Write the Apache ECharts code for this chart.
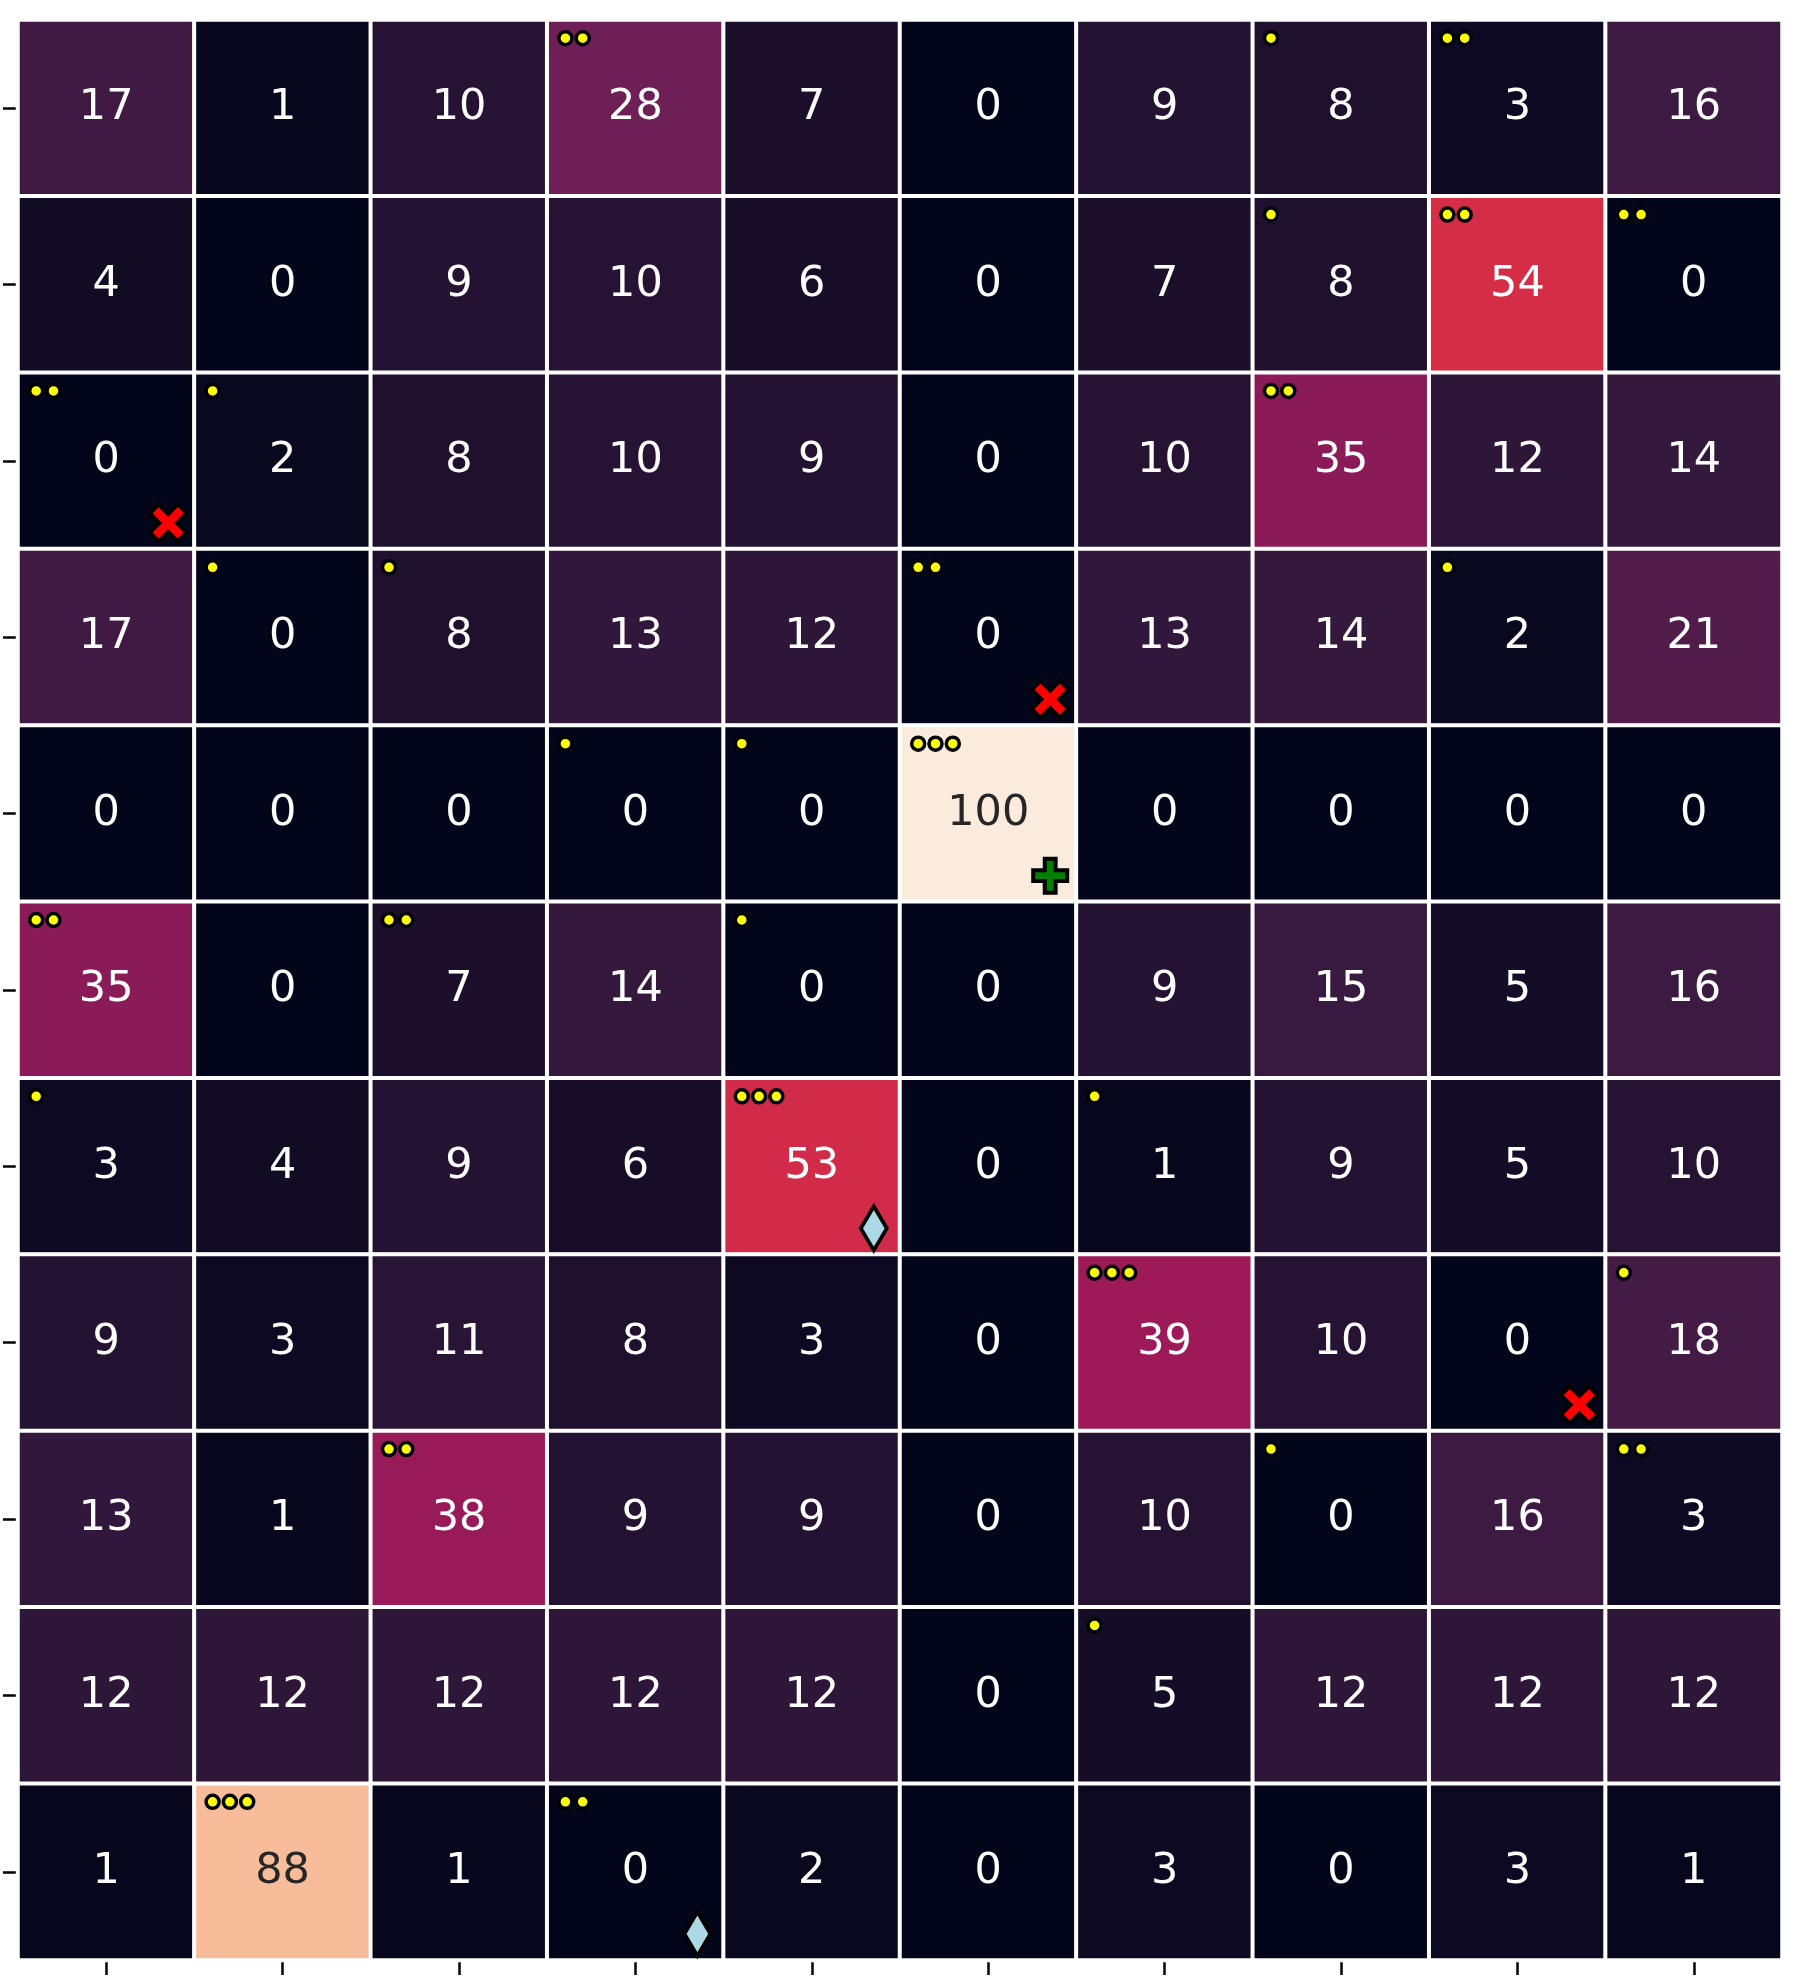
<!DOCTYPE html>
<html>
<head>
<meta charset="utf-8">
<script src="https://cdn.jsdelivr.net/npm/echarts@6/dist/echarts.min.js"></script>
<style>
  html, body { margin: 0; padding: 0; background: #ffffff; }
  #chart { width: 1800px; height: 1980px; }
</style>
</head>
<body>
<div id="chart"></div>
<script>
// ---- data ----
const columns = ['0','1','2','3','4','5','6','7','8','9'];
const rows = ['0','1','2','3','4','5','6','7','8','9','10'];
const values = [
  [17, 1, 10, 28, 7, 0, 9, 8, 3, 16],
  [4, 0, 9, 10, 6, 0, 7, 8, 54, 0],
  [0, 2, 8, 10, 9, 0, 10, 35, 12, 14],
  [17, 0, 8, 13, 12, 0, 13, 14, 2, 21],
  [0, 0, 0, 0, 0, 100, 0, 0, 0, 0],
  [35, 0, 7, 14, 0, 0, 9, 15, 5, 16],
  [3, 4, 9, 6, 53, 0, 1, 9, 5, 10],
  [9, 3, 11, 8, 3, 0, 39, 10, 0, 18],
  [13, 1, 38, 9, 9, 0, 10, 0, 16, 3],
  [12, 12, 12, 12, 12, 0, 5, 12, 12, 12],
  [1, 88, 1, 0, 2, 0, 3, 0, 3, 1]
];
// [row, col, number of dots]
const dotCounts = [
  [0,3,2],[0,7,1],[0,8,2],
  [1,7,1],[1,8,2],[1,9,2],
  [2,0,2],[2,1,1],[2,7,2],
  [3,1,1],[3,2,1],[3,5,2],[3,8,1],
  [4,3,1],[4,4,1],[4,5,3],
  [5,0,2],[5,2,2],[5,4,1],
  [6,0,1],[6,4,3],[6,6,1],
  [7,6,3],[7,9,1],
  [8,2,2],[8,7,1],[8,9,2],
  [9,6,1],
  [10,1,3],[10,3,2]
];
const crossCells = [[2,0],[3,5],[7,8]];
const plusCells = [[4,5]];
const diamondCells = [[6,4],[10,3]];

const rocket = ['#03051a','#35193e','#701f57','#ad1759','#e13342','#f37651','#f6b48f','#faebdd'];

// ---- build ----
const heatData = [];
values.forEach((row, r) => row.forEach((v, c) => {
  heatData.push({
    value: [c, r, v],
    label: { color: v > 70 ? '#262626' : '#ffffff' }
  });
}));

const dotSeries = [0,1,2].map(k => ({
  type: 'scatter',
  z: 5,
  symbol: 'circle',
  symbolSize: 13,
  symbolOffset: [-70 + 17.3 * k, -70],
  itemStyle: { color: '#ffff00', borderColor: '#000000', borderWidth: 3.5, opacity: 1 },
  data: dotCounts.filter(d => d[2] > k).map(d => [d[1], d[0]]),
  silent: true
}));

const xPath = 'path://M2.4,0 L5,2.6 L7.6,0 L10,2.4 L7.4,5 L10,7.6 L7.6,10 L5,7.4 L2.4,10 L0,7.6 L2.6,5 L0,2.4 Z';
const plusPath = 'path://M3.4,0 L6.6,0 L6.6,3.4 L10,3.4 L10,6.6 L6.6,6.6 L6.6,10 L3.4,10 L3.4,6.6 L0,6.6 L0,3.4 L3.4,3.4 Z';

const markerSeries = [
  { cells: crossCells, symbol: xPath, size: 37, color: '#ff0000' },
  { cells: plusCells, symbol: plusPath, size: 34, color: '#008000' },
  { cells: diamondCells, symbol: 'diamond', size: [26, 44], color: '#add8e6' }
].map(m => ({
  type: 'scatter',
  z: 6,
  symbol: m.symbol,
  symbolSize: m.size,
  symbolOffset: [62, 62],
  symbolKeepAspect: false,
  itemStyle: { color: m.color, borderColor: '#000000', borderWidth: 4, opacity: 1 },
  data: m.cells.map(d => [d[1], d[0]]),
  silent: true
}));

const chart = echarts.init(document.getElementById('chart'), null, { renderer: 'canvas' });
chart.setOption({
  animation: false,
  backgroundColor: '#ffffff',
  grid: { left: 18, top: 20, width: 1764, height: 1940, containLabel: false },
  xAxis: {
    type: 'category',
    data: columns,
    position: 'bottom',
    axisLine: { show: false },
    axisTick: { show: true, alignWithLabel: true, length: 15, lineStyle: { color: '#000000', width: 2.5 } },
    axisLabel: { show: true, formatter: () => '' },
    splitLine: { show: false }
  },
  yAxis: {
    type: 'category',
    data: rows,
    inverse: true,
    axisLine: { show: false },
    axisTick: { show: true, alignWithLabel: true, length: 15, lineStyle: { color: '#000000', width: 2.5 } },
    axisLabel: { show: true, formatter: () => '' },
    splitLine: { show: false }
  },
  visualMap: {
    show: false,
    type: 'continuous',
    min: 0,
    max: 100,
    dimension: 2,
    seriesIndex: 0,
    inRange: { color: rocket }
  },
  series: [
    {
      type: 'heatmap',
      data: heatData,
      itemStyle: { borderColor: '#ffffff', borderWidth: 4 },
      label: {
        show: true,
        fontFamily: 'DejaVu Sans',
        fontSize: 43,
        formatter: p => String(p.value[2])
      },
      emphasis: { disabled: true }
    },
    ...dotSeries,
    ...markerSeries
  ]
});
</script>
</body>
</html>
